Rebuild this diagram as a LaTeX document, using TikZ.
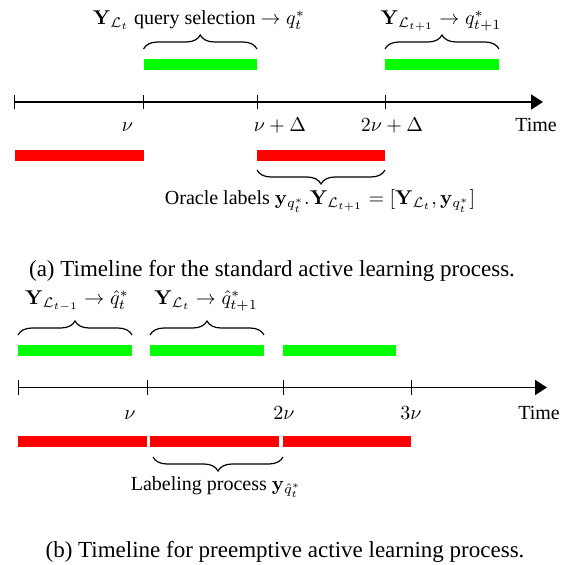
\documentclass[tikz,border=0pt]{standalone}
\usepackage[no-math]{fontspec}
\setmainfont{Liberation Serif}
\usetikzlibrary{decorations.pathreplacing,arrows.meta}
\definecolor{barred}{RGB}{255,0,0}
\definecolor{bargreen}{RGB}{0,255,0}
\tikzset{
  axisline/.style={line width=0.9pt,-{Triangle[length=6pt,width=7.5pt]}},
  tickmark/.style={line width=0.5pt},
  greenbar/.style={line width=5.5pt,draw=bargreen},
  redbar/.style={line width=5.5pt,draw=barred},
  bracetop/.style={line width=0.6pt,decorate,decoration={brace,amplitude=7pt}},
  bracebot/.style={line width=0.6pt,decorate,decoration={brace,amplitude=7pt,mirror}},
  lbl/.style={anchor=base,inner sep=0pt,font=\fontsize{10}{12}\selectfont},
  captxt/.style={anchor=base,inner sep=0pt,font=\fontsize{11.5}{14}\selectfont}
}
\begin{document}
\begin{tikzpicture}[x=0.5pt,y=-0.5pt]
\useasboundingbox (0,0) rectangle (561,565);
% ---------- (a) ----------
\coordinate (a0) at (14.5,102);
\coordinate (a1) at (143.5,102);
\coordinate (a2) at (257,102);
\coordinate (a3) at (385,102);
\coordinate (aend) at (543,102);
\draw[axisline] (a0) -- (aend);
\foreach \c in {a0,a1,a2,a3}
  \draw[tickmark] ([yshift=3.5pt]\c) -- ([yshift=-3.5pt]\c);
% green bars
\coordinate (ga1s) at (143.5,64.5); \coordinate (ga1e) at (257,64.5);
\coordinate (ga2s) at (385,64.5);   \coordinate (ga2e) at (499,64.5);
\draw[greenbar] (ga1s) -- (ga1e);
\draw[greenbar] (ga2s) -- (ga2e);
% braces top
\coordinate (ba1s) at (143.5,49); \coordinate (ba1e) at (257,49);
\coordinate (ba2s) at (385,49);   \coordinate (ba2e) at (499,49);
\draw[bracetop] (ba1s) -- (ba1e);
\draw[bracetop] (ba2s) -- (ba2e);
\node[lbl] (la1) at (199,25) {$\mathbf{Y}_{\mathcal{L}_t}$ query selection $\rightarrow q_t^*$};
\node[lbl] (la2) at (441,25) {$\mathbf{Y}_{\mathcal{L}_{t+1}} \rightarrow q_{t+1}^*$};
% tick labels
\node[lbl] (ta1) at (127.5,132) {$\nu$};
\node[lbl] (ta2) at (280,132) {$\nu+\Delta$};
\node[lbl] (ta3) at (392,132) {$2\nu+\Delta$};
\node[lbl] (ta4) at (536,132) {Time};
% red bars
\coordinate (ra1s) at (14.5,155.5); \coordinate (ra1e) at (143.5,155.5);
\coordinate (ra2s) at (257,155.5);  \coordinate (ra2e) at (385,155.5);
\draw[redbar] (ra1s) -- (ra1e);
\draw[redbar] (ra2s) -- (ra2e);
\coordinate (bra1s) at (257,170); \coordinate (bra1e) at (385,170);
\draw[bracebot] (bra1s) -- (bra1e);
\node[lbl] (oa) at (320,205) {Oracle labels $\mathbf{y}_{q_t^*}.\mathbf{Y}_{\mathcal{L}_{t+1}} = [\mathbf{Y}_{\mathcal{L}_t}, \mathbf{y}_{q_t^*}]$};
\node[captxt] (capa) at (272,277) {(a) Timeline for the standard active learning process.};
% ---------- (b) ----------
\coordinate (b0) at (18,387.5);
\coordinate (b1) at (147,387.5);
\coordinate (b2) at (283,387.5);
\coordinate (b3) at (411,387.5);
\coordinate (bend) at (547,387.5);
\draw[axisline] (b0) -- (bend);
\foreach \c in {b0,b1,b2,b3}
  \draw[tickmark] ([yshift=3.75pt]\c) -- ([yshift=-3.75pt]\c);
\coordinate (gb1s) at (18,350.5);  \coordinate (gb1e) at (132,350.5);
\coordinate (gb2s) at (150,350.5); \coordinate (gb2e) at (264,350.5);
\coordinate (gb3s) at (283,350.5); \coordinate (gb3e) at (396,350.5);
\draw[greenbar] (gb1s) -- (gb1e);
\draw[greenbar] (gb2s) -- (gb2e);
\draw[greenbar] (gb3s) -- (gb3e);
\coordinate (bb1s) at (18,335);  \coordinate (bb1e) at (132,335);
\coordinate (bb2s) at (150,335); \coordinate (bb2e) at (264,335);
\draw[bracetop] (bb1s) -- (bb1e);
\draw[bracetop] (bb2s) -- (bb2e);
\node[lbl] (lb1) at (77,305) {$\mathbf{Y}_{\mathcal{L}_{t-1}} \rightarrow \hat{q}_t^*$};
\node[lbl] (lb2) at (206,305) {$\mathbf{Y}_{\mathcal{L}_t} \rightarrow \hat{q}_{t+1}^*$};
\node[lbl] (tb1) at (130,419) {$\nu$};
\node[lbl] (tb2) at (284,419) {$2\nu$};
\node[lbl] (tb3) at (411,419) {$3\nu$};
\node[lbl] (tb4) at (539,419) {Time};
\coordinate (rb1s) at (18,441.5);  \coordinate (rb1e) at (147,441.5);
\coordinate (rb2s) at (150,441.5); \coordinate (rb2e) at (279,441.5);
\coordinate (rb3s) at (283,441.5); \coordinate (rb3e) at (411,441.5);
\draw[redbar] (rb1s) -- (rb1e);
\draw[redbar] (rb2s) -- (rb2e);
\draw[redbar] (rb3s) -- (rb3e);
\coordinate (brb1s) at (153,457); \coordinate (brb1e) at (283,457);
\draw[bracebot] (brb1s) -- (brb1e);
\node[lbl] (lp) at (216,490) {Labeling process $\mathbf{y}_{\hat{q}_t^*}$};
\node[captxt] (capb) at (285,557) {(b) Timeline for preemptive active learning process.};
\end{tikzpicture}
\end{document}
